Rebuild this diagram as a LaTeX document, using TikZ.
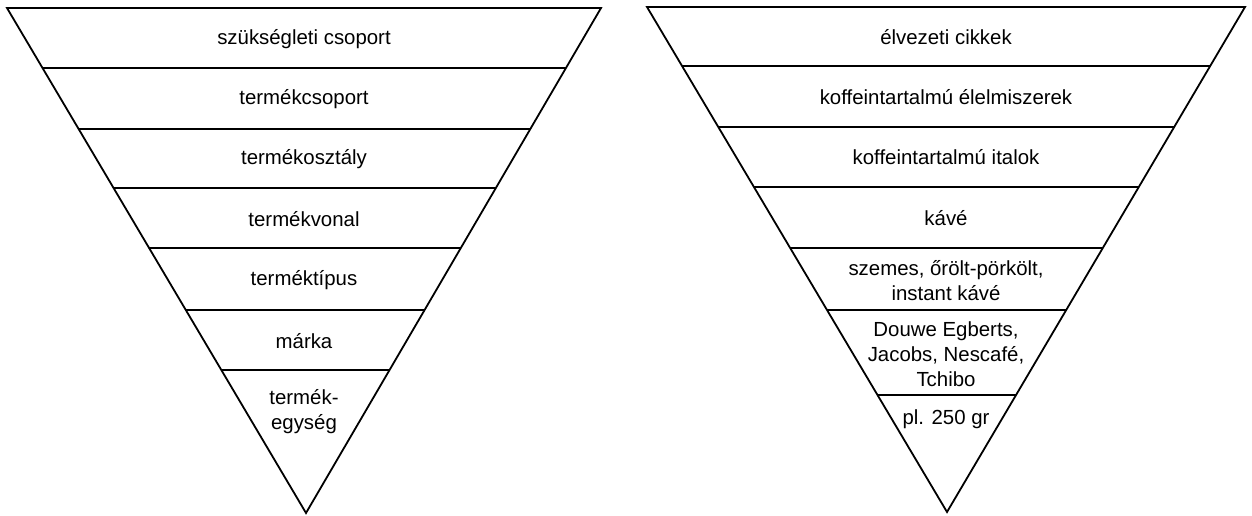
\documentclass[tikz,border=0pt]{standalone}
\usepackage{fontspec}
\setmainfont{Liberation Sans}
\usetikzlibrary{calc}
\begin{document}
\begin{tikzpicture}[x=1pt,y=-1pt,
  edge/.style={line width=1.8pt,line join=miter},
  sep/.style={line width=1.6pt},
  lbl/.style={font=\fontsize{20.4}{25}\selectfont,align=center,inner sep=0pt}]
\useasboundingbox (0,0) rectangle (1252,516);
% left triangle
\coordinate (LA) at (7,8);
\coordinate (LB) at (601,8);
\coordinate (LC) at (306,513);
\draw[edge] (LA) -- (LB) -- (LC) -- cycle;
\foreach \t [count=\i] in {0.1188,0.2396,0.3564,0.4752,0.598,0.7168}{
  \coordinate (Ll\i) at ($(LA)!\t!(LC)$);
  \coordinate (Lr\i) at ($(LB)!\t!(LC)$);
  \draw[sep] (Ll\i) -- (Lr\i);
}
\node[lbl] (l1) at (304,39) {szükségleti csoport};
\node[lbl] (l2) at (304,99) {termékcsoport};
\node[lbl] (l3) at (304,159) {termékosztály};
\node[lbl] (l4) at (304,219) {termékvonal};
\node[lbl] (l5) at (304,280) {terméktípus};
\node[lbl] (l6) at (304,341) {márka};
\node[lbl] (l7) at (304,412) {termék-\\egység};
% right triangle
\coordinate (RA) at (647,7);
\coordinate (RB) at (1245,7);
\coordinate (RC) at (947,512);
\draw[edge] (RA) -- (RB) -- (RC) -- cycle;
\foreach \t [count=\i] in {0.1168,0.2376,0.3564,0.4772,0.6,0.7683}{
  \coordinate (Rl\i) at ($(RA)!\t!(RC)$);
  \coordinate (Rr\i) at ($(RB)!\t!(RC)$);
  \draw[sep] (Rl\i) -- (Rr\i);
}
\node[lbl] (r1) at (946,37) {élvezeti cikkek};
\node[lbl] (r2) at (946,97) {koffeintartalmú élelmiszerek};
\node[lbl] (r3) at (946,157) {koffeintartalmú italok};
\node[lbl] (r4) at (946,218) {kávé};
\node[lbl] (r5) at (946,281) {szemes, őrölt-pörkölt,\\instant kávé};
\node[lbl] (r6) at (946,354) {Douwe Egberts,\\Jacobs, Nescafé,\\Tchibo};
\node[lbl] (r7) at (946,419) {pl. 250 gr};
\end{tikzpicture}
\end{document}
